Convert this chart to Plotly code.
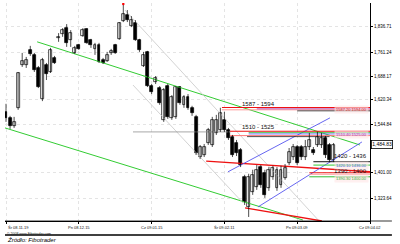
import plotly.graph_objects as go

# ---- data (daily candles, index = trading day) ----
opens = [1583,1565,1541,1595,1723,1723,1768,1753,1714,1621,1723,1702,1744,1804,1815,1833,1798,1759,1783,1810,
         1830,1798,1771,1783,1738,1735,1759,1783,1801,1854,1872,1839,1848,1798,1720,1762,1660,1672,1654,1559,
         1660,1565,1568,1657,1604,1627,1595,1568,1448,1454,1490,1484,1520,1529,1559,1529,1508,1490,1469,1389,
         1299,1344,1359,1418,1401,1356,1389,1356,1365,1386,1430,1448,1478,1478,1448,1478,1469,1484,1484,1505,
         1484,1439]
highs = [1607,1571,1568,1702,1759,1747,1780,1759,1720,1744,1729,1774,1750,1818,1833,1845,1827,1780,1786,1833,
         1833,1801,1789,1789,1744,1762,1771,1786,1851,1905,1887,1869,1857,1801,1762,1765,1666,1690,1660,1654,
         1666,1633,1660,1660,1633,1636,1601,1574,1484,1487,1535,1568,1574,1595,1583,1535,1514,1499,1475,1395,
         1398,1410,1424,1424,1410,1418,1422,1418,1422,1427,1475,1487,1484,1484,1499,1520,1478,1523,1520,1511,
         1490,1490]
lows = [1553,1532,1535,1589,1717,1714,1750,1702,1654,1615,1678,1699,1726,1792,1807,1777,1777,1756,1768,1807,
        1786,1774,1753,1729,1726,1732,1753,1756,1798,1851,1851,1836,1795,1762,1717,1657,1636,1666,1604,1553,
        1562,1559,1562,1604,1595,1589,1571,1454,1442,1448,1484,1478,1514,1523,1523,1499,1448,1451,1418,1305,
        1269,1335,1350,1356,1326,1347,1380,1347,1356,1380,1424,1439,1424,1439,1439,1469,1454,1478,1475,1445,
        1433,1433]
closes = [1565,1541,1553,1699,1735,1738,1756,1708,1657,1738,1696,1768,1729,1807,1827,1789,1818,1774,1771,1827,
          1789,1783,1783,1732,1729,1753,1765,1759,1848,1875,1857,1857,1798,1768,1753,1660,1642,1684,1610,1648,
          1568,1627,1657,1610,1627,1595,1580,1460,1478,1478,1529,1559,1559,1580,1529,1505,1454,1460,1424,1314,
          1389,1395,1410,1365,1335,1410,1416,1410,1410,1416,1463,1478,1430,1448,1478,1499,1460,1508,1505,1454,
          1439,1484.83]

tick_idx = [0, 18, 36, 54, 72, 90]
tick_text = ["Śr 08.11.19", "Pn 08.12.15", "Cz 09.01.15", "Śr 09.02.11", "Pn 09.03.09", "Cz 09.04.02"]

y_ticks = [1836.71, 1761.24, 1688.17, 1620.34, 1544.84, 1401.00, 1323.64]

# drawn studies: (x0, y0, x1, y1, colour, width)
trend_lines = [
    (-0.25, 1535, 73.4, 1260, "#33cc33", 1.0),   # lower green
    (7.7, 1792, 87.5, 1484, "#33cc33", 1.0),     # upper green
    (29.4, 1887, 77.2, 1260, "#c8c8c8", 0.8),    # grey channel upper
    (31.4, 1663, 58.6, 1311, "#c8c8c8", 0.8),    # grey channel lower
    (31.4, 1523, 55.4, 1523, "#909090", 0.8),    # grey horizontal
    (49.5, 1436, 90, 1404, "#ee1111", 1.3),      # red sloped support
    (59.1, 1296, 78.1, 1257, "#ee1111", 1.3),    # red bottom
    (54.9, 1404, 80.1, 1565, "#5555ee", 0.9),    # blue upper
    (62.3, 1299, 88.0, 1493, "#5555ee", 0.9),    # blue lower
]
zone_lines = [  # (x0, x1, level, colour, width)
    (53.4, 90, 1596, "#ee1111", 1.2),
    (53.4, 90, 1589, "#ff9999", 1.0),
    (62, 90, 1592, "#aa33aa", 0.8),
    (72, 90, 1586, "#222222", 0.8),
    (55.4, 90, 1525, "#ee1111", 1.2),
    (55.4, 90, 1512, "#ff7777", 1.0),
    (60, 90, 1521, "#33bb33", 0.8),
    (60, 90, 1517, "#5555ee", 0.8),
    (59.6, 80, 1509, "#222222", 0.8),
    (76, 90, 1434, "#111111", 1.0),
    (76, 90, 1424, "#33cc33", 1.0),
    (75, 90, 1401, "#ee1111", 1.0),
    (75, 90, 1396, "#ff9999", 0.8),
    (75, 90, 1389, "#33bb33", 1.0),
]
zone_labels = [  # (x, level, text)
    (62.5, 1607, "1587 - 1594"),
    (62.5, 1538, "1510 - 1525"),
    (85.3, 1450, "1420 - 1436"),
    (85.3, 1406, "1390 - 1400"),
]
level_tags = [  # (level, text, colour)
    (1589, "1587.20 1594.00", "#cc2222"),
    (1516, "1510.40 1525.00", "#aa33aa"),
    (1424, "1420.10 1436.00", "#3366cc"),
    (1385, "1390.30 1400.00", "#33aa33"),
]

fig = go.Figure()

# faint dotted background
fig.update_xaxes(showgrid=True, gridcolor="#e4e4e4", griddash="dot", gridwidth=0.5, dtick=1.5, tick0=0)

for x0, y0, x1, y1, c, w in trend_lines:
    fig.add_trace(go.Scatter(x=[x0, x1], y=[y0, y1], mode="lines",
                             line=dict(color=c, width=w), hoverinfo="skip"))
for x0, x1, lv, c, w in zone_lines:
    fig.add_trace(go.Scatter(x=[x0, x1], y=[lv, lv], mode="lines",
                             line=dict(color=c, width=w), hoverinfo="skip"))

# candles drawn as wicks + bars so the body width can be set
idx = list(range(len(opens)))
wx, wy = [], []
for i in idx:
    wx += [i, i, None]
    wy += [lows[i], highs[i], None]
fig.add_trace(go.Scatter(x=wx, y=wy, mode="lines", line=dict(color="black", width=0.7),
                         hoverinfo="skip"))
fig.add_trace(go.Bar(
    x=idx,
    base=[min(o, c) for o, c in zip(opens, closes)],
    y=[max(abs(c - o), 1.5) for o, c in zip(opens, closes)],
    width=0.72,
    marker=dict(color=["white" if c >= o else "black" for o, c in zip(opens, closes)],
                line=dict(color="black", width=0.7)),
    hoverinfo="skip",
))
# red marker at the top
fig.add_trace(go.Scatter(x=[29], y=[highs[29]], mode="markers",
                         marker=dict(color="red", size=2.5), hoverinfo="skip"))

for x, lv, t in zone_labels:
    fig.add_annotation(x=x, y=lv, text=t, showarrow=False,
                       font=dict(size=6, color="#111111", family="Liberation Sans"))
for lv, t, c in level_tags:
    fig.add_annotation(x=89.8, y=lv, text=t, showarrow=False, xanchor="right",
                       font=dict(size=4, color=c, family="Liberation Sans"),
                       bgcolor="rgba(255,230,230,0.6)")

# x tick labels
for i, (xi, t) in enumerate(zip(tick_idx, tick_text)):
    fig.add_annotation(x=xi, y=0, yref="paper", yanchor="top", yshift=-2, text=t,
                       showarrow=False, xanchor="left" if i == 0 else "center",
                       font=dict(size=4, color="#111111", family="Liberation Sans"))

# current price tag
fig.add_annotation(x=1, xref="paper", y=closes[-1], text="1,484.83", showarrow=False,
                   xanchor="left", xshift=1, bordercolor="black", borderwidth=0.8,
                   borderpad=0.5, bgcolor="white",
                   font=dict(size=5, color="black", family="Liberation Sans"))

fig.add_annotation(x=0, xref="paper", y=0, yref="paper", yanchor="top", yshift=-9,
                   xanchor="left", text="© 2008 www.Fibotrader.com", showarrow=False,
                   font=dict(size=3.5, color="#222222", family="Liberation Sans"))
fig.add_annotation(x=0, xref="paper", y=0, yref="paper", yanchor="top", yshift=-13.5,
                   xanchor="left", text="<i>Źródło: Fibotrader</i>", showarrow=False,
                   font=dict(size=6, color="black", family="Liberation Sans"))
# separators
fig.add_shape(type="line", xref="paper", yref="paper", x0=0, x1=1.06, y0=0, y1=0,
              line=dict(color="black", width=0.8))
fig.add_shape(type="line", xref="paper", yref="paper", x0=0, x1=1.06, y0=-0.064, y1=-0.064,
              line=dict(color="black", width=1.5))

fig.update_layout(
    width=400, height=244, margin=dict(l=5, r=30, t=3, b=23),
    paper_bgcolor="white", plot_bgcolor="white", showlegend=False, bargap=0,
    font=dict(family="Liberation Sans", size=5, color="black"),
    xaxis=dict(range=[-0.25, 90], zeroline=False,
               tickvals=tick_idx, ticktext=[""] * len(tick_idx), ticks="outside", ticklen=2,
               tickcolor="black", showline=True, linecolor="black", linewidth=0.8),
    yaxis=dict(range=[1257, 1908], side="right", showgrid=True, gridcolor="#e4e4e4",
               griddash="dot", gridwidth=0.5, zeroline=False,
               tickvals=y_ticks, ticktext=[f"{v:,.2f}" for v in y_ticks],
               ticks="outside", ticklen=2, tickcolor="black",
               showline=True, linecolor="black", linewidth=1,
               tickfont=dict(size=4.5)),
)

fig.write_html("out.html")
